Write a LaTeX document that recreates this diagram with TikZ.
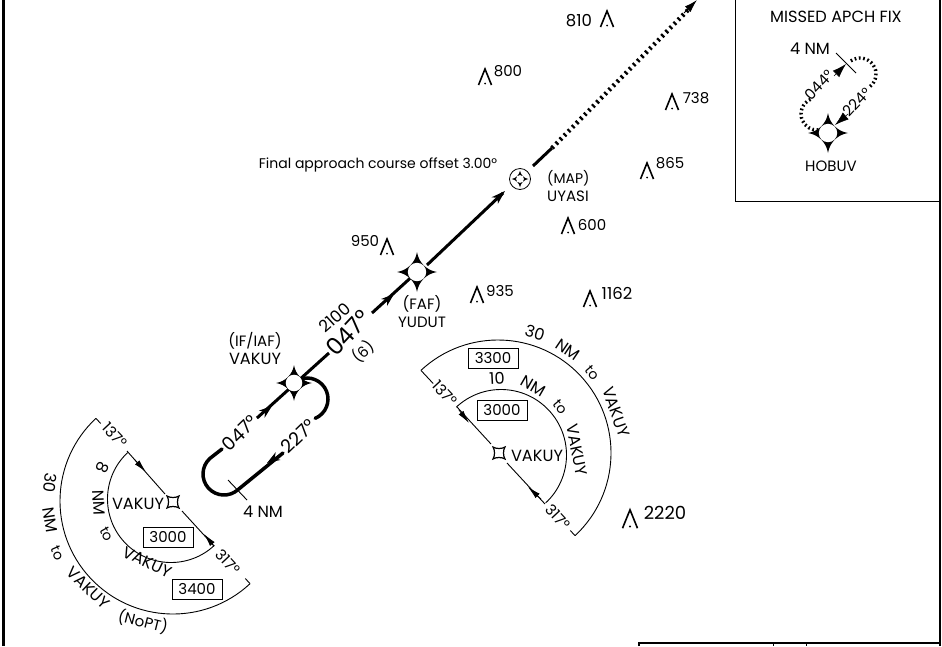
\documentclass[tikz,border=0pt]{standalone}
\usepackage{fontspec}
\setmainfont{Poppins}
\usetikzlibrary{arrows.meta,calc}
\tikzset{
  lbl/.style={inner sep=0pt,font=\fontsize{14}{16}\selectfont,text=black},
  capslbl/.style={inner sep=0pt,font=\fontsize{16.2}{18}\selectfont,text=black},
  numlbl/.style={inner sep=0pt,font=\fontsize{15}{17}\selectfont,text=black},
  widenum/.style={inner sep=0pt,font=\fontsize{16.5}{18}\selectfont,text=black},
  big/.style={inner sep=0pt,font=\fontsize{23.5}{26}\selectfont},
  mid/.style={inner sep=0pt,font=\fontsize{18.5}{20}\selectfont},
  tall/.style={inner sep=0pt,font=\fontsize{18}{20}\selectfont},
  altbox/.style={draw,line width=0.8pt,minimum width=50pt,minimum height=20pt,inner sep=0pt,font=\fontsize{15}{17}\selectfont},
  thin line/.style={line width=0.9pt},
  course/.style={line width=3pt},
  holdline/.style={line width=3.5pt,line cap=round},
  hatch/.style={line width=4.5pt,dash pattern=on 2.2pt off 3.6pt},
  hatcharc/.style={line width=3.4pt,dash pattern=on 1.7pt off 2.6pt},
  openhead/.style={-{Stealth[length=13pt,width=9pt,inset=4pt]}},
  solidhead/.style={-{Latex[length=13pt,width=6pt]}},
  fixstar/.pic={
    \fill[black] (1,0) .. controls (.48,.08) and (.08,.48) .. (0,1)
      .. controls (-.08,.48) and (-.48,.08) .. (-1,0)
      .. controls (-.48,-.08) and (-.08,-.48) .. (0,-1)
      .. controls (.08,-.48) and (.48,-.08) .. (1,0) -- cycle;
    \fill[white] (0,0) circle (.46);
  },
  obst/.pic={
    \draw[line width=1.6pt] (-6.5,8) -- (0,-8) -- (6.5,8);
    \fill[black] (0,6.5) circle (1);
  },
  msastar/.pic={
    \draw[line width=1.2pt,fill=white] (-6,-6) .. controls (-3,-4) and (3,-4) .. (6,-6)
      .. controls (4,-3) and (4,3) .. (6,6)
      .. controls (3,4) and (-3,4) .. (-6,6)
      .. controls (-4,3) and (-4,-3) .. (-6,-6) -- cycle;
  },
}
\begin{document}
\begin{tikzpicture}[x=1pt,y=-1pt]
\useasboundingbox (0,0) rectangle (942,646);
% frame
\draw[line width=3pt] (3,0) -- (3,646);
\draw[line width=2pt] (939.5,0) -- (939.5,646);
\draw[line width=2pt] (639,646) -- (639,643) -- (939.5,643);
\draw[line width=1pt] (773,643) -- (773,646);
\draw[line width=1pt] (806,643) -- (806,646);
\draw[line width=1pt] (735,0) -- (735,201) -- (939,201);

% fixes
\coordinate (IAF) at (294,383);
\coordinate (FAF) at (417,272);
\coordinate (MAP) at (520,179);
\coordinate (HOB) at (828,133);

% hold
\coordinate (HR) at (307,399);
\coordinate (HL) at (224,474);
\coordinate (Ha) at (283,453);
\coordinate (Hb) at (267,463);
\coordinate (Hc) at (257,418);
\coordinate (Hd) at (272,406);
\coordinate (He) at (222,449);
\coordinate (Hf) at (329,353);
\draw[holdline] (HR) ++(112:21pt) arc[start angle=112,end angle=-67,radius=21pt];
\draw[holdline] (He) -- ($(HL)+(132:21pt)$) arc[start angle=132,end angle=312,radius=21pt] -- (Ha);
\draw[course] (Hc) -- (Hf);
\draw[openhead,line width=1.5pt] (Ha) -- (Hb);
\draw[openhead,line width=1.5pt] (Hc) -- (Hd);
\coordinate (Ta) at (228,480);
\coordinate (Tb) at (247,500);
\draw[thin line] (Ta) -- (Tb);
\node[capslbl] (nm4) at (263,512) {4 NM};
\node[mid,rotate=44] (h047) at (240,433) {047°};
\node[mid,rotate=44] (h227) at (298,436) {227°};

% final course
\coordinate (Ca) at (372,313);
\coordinate (Cb) at (427,265);
\coordinate (Cc) at (503,193);
\coordinate (Cd) at (533,166);
\coordinate (Ce) at (552,148);
\coordinate (Cf) at (688,10);
\coordinate (Cg) at (697,0);
\draw[course] (Ca) -- (FAF);
\draw[openhead,line width=1.5pt] (380,306) -- (394,294);
\draw[course] (Cb) -- (Cc);
\draw[-{Stealth[length=14pt,width=9pt,inset=4pt]},line width=1.5pt] (490,205) -- (505,191);
\draw[course] (Cd) -- (Ce);
\draw[hatch] (Ce) -- (Cf);
\draw[-{Latex[length=13pt,width=8pt]},line width=1pt] (684,13) -- (Cg);
\node[big,rotate=47] (f047) at (348,333) {047°};
\node[widenum,rotate=42] (alt) at (334.5,317.5) {2100};
\node[numlbl,rotate=42] (dist) at (363,352) {(6)};

\pic at (IAF) [scale=18] {fixstar};
\pic at (FAF) [scale=20] {fixstar};
\draw[line width=0.8pt] (MAP) circle (10.5);
\pic at (MAP) [scale=8.5] {fixstar};

\node[numlbl] (t1) at (255,341) {(IF/IAF)};
\node[capslbl] (t2) at (255,359) {VAKUY};
\node[numlbl] (t3) at (422,304) {(FAF)};
\node[numlbl] (t4) at (422,322) {YUDUT};
\node[lbl,anchor=west] (t5) at (547,178) {(MAP)};
\node[numlbl,anchor=west] (t6) at (547,196) {UYASI};
\node[lbl] (t7) at (378,165) {Final approach course offset 3.00°};

% obstacles
\pic at (607,19) {obst};
\node[widenum] (o1) at (579,21) {810};
\pic at (485,77) {obst};
\node[numlbl] (o2) at (508,71) {800};
\pic at (672,102) {obst};
\node[numlbl] (o3) at (696,98) {738};
\pic at (647,171) {obst};
\node[numlbl] (o4) at (670,163) {865};
\pic at (568,226) {obst};
\node[numlbl] (o5) at (592,225) {600};
\pic at (387,247) {obst};
\node[numlbl] (o6) at (365,241) {950};
\pic at (477,295) {obst};
\node[numlbl] (o7) at (500,291) {935};
\pic at (590,299) {obst};
\node[widenum] (o8) at (617,293) {1162};
\pic at (630,519) [scale=1.15] {obst};
\node[tall] (o9) at (665,513) {2220};

% lower-left MSA
\coordinate (LC) at (173,502);
\coordinate (LI) at (171,499);
\coordinate (LO) at (173,501);
\draw[thin line] (LI) ++(133:63.5pt) arc[start angle=133,end angle=313,radius=63.5pt];
\draw[thin line] (LO) ++(133:113pt) coordinate (LOa) arc[start angle=133,end angle=313,radius=113pt] coordinate (LOb);
\draw[thin line] (LOa) -- ++(-47:7pt);
\draw[thin line] (LOb) -- ++(133:7pt);
\coordinate (La) at (127,451);
\coordinate (Lb) at (165,494);
\coordinate (Lc) at (182,511);
\coordinate (Ld) at (214,546);
\draw[thin line] (La) -- (Lb);
\draw[thin line] (Lc) -- (Ld);
\draw[solidhead,line width=0.8pt] (135,460) -- (146,472);
\draw[solidhead,line width=0.8pt] (214,546) -- (204,534);
\pic at (LC) {msastar};
\node[numlbl,rotate=-47] (l1) at (115,435) {137°};
\node[numlbl,rotate=-47] (l2) at (228,562) {317°};
\node[capslbl] (l3) at (138,504) {VAKUY};
\node[altbox] (l4) at (168,537) {3000};
\node[altbox] (l5) at (197,589) {3400};
\node[capslbl,rotate=-115] (a1) at (103,468) {8};
\node[capslbl,rotate=-88] (a2) at (99,503) {NM};
\node[lbl,rotate=-61] (a3) at (107,534) {to};
\node[capslbl,rotate=-25] (a4) at (147,562) {VAKUY};
\node[capslbl,rotate=-98] (a5) at (50,483) {30};
\node[capslbl,rotate=-81] (a6) at (50,520) {NM};
\node[lbl,rotate=-66] (a7) at (58,553) {to};
\node[capslbl,rotate=-44] (a8) at (88,588) {VAKUY};
\node[numlbl,rotate=-14] (a9) at (143,622) {(NoPT)};

% right MSA
\coordinate (RC) at (499,453);
\coordinate (RI) at (501,455);
\coordinate (RO) at (498,453);
\draw[thin line] (RI) ++(133:65.5pt) arc[start angle=133,end angle=-47,radius=65.5pt];
\draw[thin line] (RO) ++(133:113pt) coordinate (ROa) arc[start angle=133,end angle=-47,radius=113pt] coordinate (ROb);
\draw[thin line] (ROa) -- ++(-47:18pt);
\draw[thin line] (ROb) -- ++(133:7pt);
\coordinate (Ra) at (457,407);
\coordinate (Rb) at (491,444);
\coordinate (Rc) at (507,463);
\coordinate (Rd) at (545,504);
\draw[thin line] (Ra) -- (Rb);
\draw[thin line] (Rc) -- (Rd);
\draw[solidhead,line width=0.8pt] (459,410) -- (469,423);
\draw[solidhead,line width=0.8pt] (541,499) -- (528,487);
\pic at (RC) {msastar};
\node[numlbl,rotate=-47] (r1) at (445,393) {137°};
\node[numlbl,rotate=-47] (r2) at (558,517) {317°};
\node[capslbl] (r3) at (537,456) {VAKUY};
\node[altbox] (r4) at (493,358) {3300};
\node[altbox] (r5) at (502,410) {3000};
\node[capslbl,rotate=-17] (b1) at (535,333) {30};
\node[capslbl,rotate=-34] (b2) at (568,350) {NM};
\node[lbl,rotate=-50] (b3) at (592,373) {to};
\node[capslbl,rotate=-71] (b4) at (616,412) {VAKUY};
\node[capslbl,rotate=3] (b5) at (497,378) {10};
\node[capslbl,rotate=-30] (b6) at (533,386) {NM};
\node[lbl,rotate=-51] (b7) at (560,407) {to};
\node[capslbl,rotate=-78] (b8) at (577,450) {VAKUY};

% inset
\node[capslbl] (i1) at (836,17) {MISSED APCH FIX};
\node[capslbl] (i2) at (810,49) {4 NM};
\node[numlbl] (i3) at (831,166) {HOBUV};
\coordinate (Ia) at (836,53);
\coordinate (Ib) at (856,73);
\draw[thin line] (Ia) -- (Ib);
\draw[hatcharc] (860,74) ++(125:16pt) arc[start angle=125,end angle=-52,radius=16pt];
\draw[hatcharc] (817,114) ++(114:16pt) arc[start angle=114,end angle=274,radius=16pt];
\draw[-{Latex[length=14pt,width=9pt]},line width=0.5pt] (834,76) -- (846,64);
\draw[-{Latex[length=14pt,width=9pt]},line width=0.5pt] (848,114) -- (835,125);
\pic at (HOB) [scale=20] {fixstar};
\node[numlbl,rotate=47] (i4) at (819,85) {044°};
\node[numlbl,rotate=47] (i5) at (857,102) {224°};
\end{tikzpicture}
\end{document}
